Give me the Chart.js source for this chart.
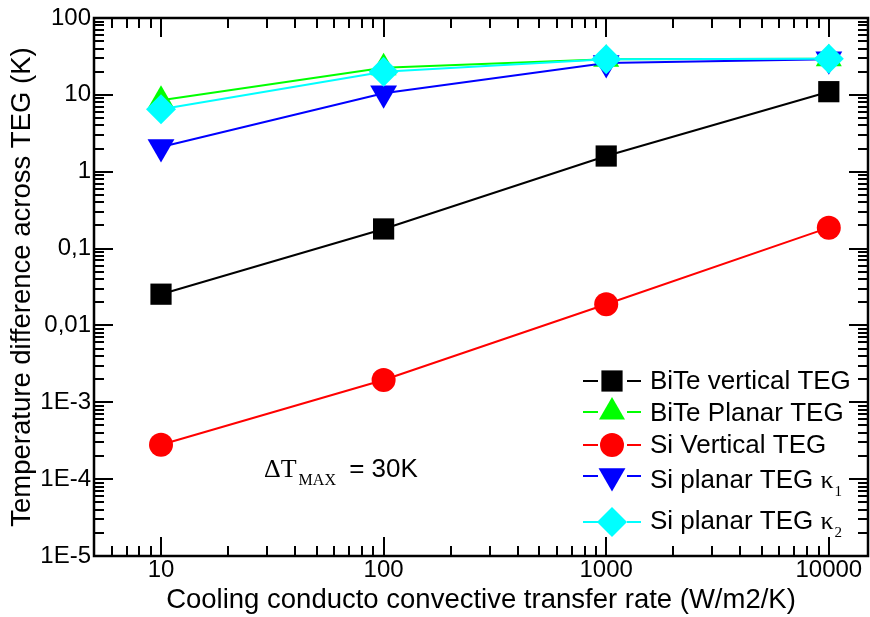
<!DOCTYPE html>
<html>
<head>
<meta charset="utf-8">
<style>
  html, body { margin: 0; padding: 0; background: #fff; }
</style>
</head>
<body>
<canvas id="chart" width="870" height="617"></canvas>
<script src="https://cdn.jsdelivr.net/npm/chart.js"></script>
<script>
// values (log-log)
const rates = [10, 100, 1000, 10000];
const biteVertical = [0.0255, 0.18, 1.6, 11];
const bitePlanar = [8.5, 22.5, 29, 29.5];
const siVertical = [0.00028, 0.00195, 0.0189, 0.187];
const siPlanarK1 = [2.1, 10.5, 26, 29];
const siPlanarK2 = [6.5, 20, 29, 29.5];

const xTicks = [10, 100, 1000, 10000];
const xTickLabels = ['10', '100', '1000', '10000'];
const yTicks = [1e-5, 1e-4, 1e-3, 0.01, 0.1, 1, 10, 100];
const yTickLabels = ['1E-5', '1E-4', '1E-3', '0,01', '0,1', '1', '10', '100'];

const SANS = '"Liberation Sans", Arial, sans-serif';
const SERIF = '"Liberation Serif", "Times New Roman", serif';
Chart.defaults.font.family = SANS;
Chart.defaults.color = '#000';

const pts = (ys) => rates.map((x, i) => ({ x, y: ys[i] }));

function series(label, ys, color, style, radius, order, rotation) {
  return {
    label, data: pts(ys), order,
    borderColor: color, backgroundColor: color, borderWidth: 2,
    pointStyle: style, pointRadius: radius, pointHoverRadius: radius,
    pointBorderWidth: 0, pointRotation: rotation || 0,
  };
}

const datasets = [
  series('BiTe vertical TEG', biteVertical, '#000000', 'rect', 15, 3),
  series('BiTe Planar TEG', bitePlanar, '#00ff00', 'triangle', 15, 2),
  series('Si Vertical TEG', siVertical, '#ff0000', 'circle', 12, 4),
  series('Si planar TEG', siPlanarK1, '#0000ff', 'triangle', 15.5, 1, 180),
  series('Si planar TEG', siPlanarK2, '#00ffff', 'rectRot', 15, 0),
];
const kappaSub = [null, null, null, '1', '2'];

// inward ticks (major + minor) on all four sides, plus the frame
const frame = {
  id: 'frame',
  beforeDatasetsDraw(chart) {
    const { ctx, chartArea: a, scales: { x, y } } = chart;
    ctx.save();
    ctx.strokeStyle = '#000';
    ctx.lineWidth = 2;
    const each = (scale, fn) => {
      for (let k = -6; k <= 5; k++) {
        for (let m = 1; m <= 9; m++) {
          const v = m * Math.pow(10, k);
          if (v < scale.min * 0.999 || v > scale.max * 1.001) continue;
          fn(Math.round(scale.getPixelForValue(v)), m === 1);
        }
      }
    };
    ctx.beginPath();
    each(x, (p, major) => {
      const l = major ? 19 : 10;
      ctx.moveTo(p, a.bottom); ctx.lineTo(p, a.bottom - l);
      ctx.moveTo(p, a.top); ctx.lineTo(p, a.top + l);
    });
    each(y, (p, major) => {
      const l = major ? 19 : 10;
      ctx.moveTo(a.left, p); ctx.lineTo(a.left + l, p);
      ctx.moveTo(a.right, p); ctx.lineTo(a.right - l, p);
    });
    ctx.stroke();
    ctx.lineWidth = 2.5;
    ctx.strokeRect(a.left, a.top, a.right - a.left, a.bottom - a.top);
    ctx.restore();
  },
  afterDatasetsDraw(chart) {
    const ctx = chart.ctx;
    ctx.save();
    // legend
    const rowY = [381, 412, 445, 476, 522];
    const baseY = [389, 421, 453, 488, 529];
    chart.data.datasets.forEach((ds, i) => {
      const yy = rowY[i];
      ctx.strokeStyle = ds.borderColor;
      ctx.fillStyle = ds.backgroundColor;
      ctx.lineWidth = 2;
      ctx.beginPath();
      ctx.moveTo(583, yy); ctx.lineTo(598, yy);
      ctx.moveTo(627, yy); ctx.lineTo(641, yy);
      ctx.stroke();
      Chart.helpers.drawPoint(ctx, {
        pointStyle: ds.pointStyle, rotation: ds.pointRotation,
        radius: ds.pointRadius, borderWidth: 0,
      }, 612, yy);
      ctx.fillStyle = '#000';
      ctx.textBaseline = 'alphabetic';
      ctx.textAlign = 'left';
      ctx.font = '26px ' + SANS;
      let txt = ds.label;
      if (kappaSub[i]) txt += ' ';
      ctx.fillText(txt, 650, baseY[i]);
      if (kappaSub[i]) {
        const w = ctx.measureText(txt).width;
        ctx.font = '26px ' + SERIF;
        ctx.fillText('\u03ba', 650 + w, baseY[i]);
        const kw = ctx.measureText('\u03ba').width;
        ctx.font = '15px ' + SERIF;
        ctx.fillText(kappaSub[i], 650 + w + kw + 1, baseY[i] + 8);
      }
    });
    // ΔT_MAX annotation
    ctx.fillStyle = '#000';
    ctx.font = '26px ' + SERIF;
    ctx.fillText('\u0394T', 264, 477);
    let w = ctx.measureText('\u0394T').width;
    ctx.font = '16px ' + SERIF;
    ctx.fillText('MAX', 264 + w + 2, 485);
    w += ctx.measureText('MAX').width + 2;
    ctx.font = '26px ' + SANS;
    ctx.fillText(' = 30K', 264 + w + 6, 477);
    ctx.restore();
  }
};

new Chart(document.getElementById('chart'), {
  type: 'line',
  data: { datasets },
  options: {
    responsive: false,
    animation: false,
    layout: { autoPadding: false, padding: { top: 18, right: 2, left: 0, bottom: 0 } },
    plugins: { legend: { display: false }, tooltip: { enabled: false } },
    scales: {
      x: {
        type: 'logarithmic', min: 5, max: 15000,
        grid: { display: false, drawTicks: false }, border: { display: false },
        afterBuildTicks: (s) => { s.ticks = xTicks.map((v) => ({ value: v })); },
        afterFit: (s) => { s.height = 61; s.paddingLeft = 0; s.paddingRight = 0; },
        ticks: {
          autoSkip: false, maxRotation: 0, padding: 0,
          font: { size: 24 }, callback: (v, i) => xTickLabels[i],
        },
        title: {
          display: true, text: 'Cooling conducto convective transfer rate (W/m2/K)',
          padding: 0, font: { size: 27.5 },
        },
      },
      y: {
        type: 'logarithmic', min: 1e-5, max: 100,
        grid: { display: false, drawTicks: false }, border: { display: false },
        afterBuildTicks: (s) => { s.ticks = yTicks.map((v) => ({ value: v })); },
        afterFit: (s) => { s.width = 94; s.paddingTop = 0; s.paddingBottom = 0; },
        ticks: {
          autoSkip: false, padding: 3,
          font: { size: 24 }, callback: (v, i) => yTickLabels[i],
        },
        title: {
          display: true, text: 'Temperature difference across TEG (K)',
          padding: { top: 6, bottom: 0 }, font: { size: 27.5 },
        },
      },
    },
  },
  plugins: [frame],
});
</script>
</body>
</html>
